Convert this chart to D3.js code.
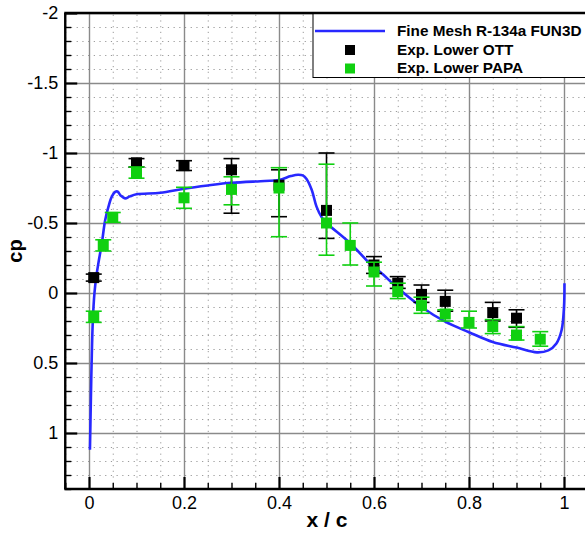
<!DOCTYPE html>
<html>
<head>
<meta charset="utf-8">
<script src="https://cdn.jsdelivr.net/npm/d3@7/dist/d3.min.js"></script>
<style>
  html, body { margin: 0; padding: 0; background: #fff; }
  svg { display: block; }
  text { font-family: "Liberation Sans", Arial, Helvetica, sans-serif; }
</style>
</head>
<body>
<svg id="chart" width="585" height="535"></svg>
<script>
// CFD surface pressure, lower side (x/c, cp)
const cfdX  = [0.002, 0.004, 0.0055, 0.008, 0.0115, 0.0155, 0.0196, 0.027, 0.034, 0.041, 0.048, 0.055, 0.060, 0.067, 0.076, 0.086, 0.10, 0.15, 0.20, 0.25, 0.30, 0.37, 0.40, 0.425, 0.44, 0.45, 0.458, 0.469, 0.479, 0.49, 0.50, 0.55, 0.60, 0.613, 0.65, 0.70, 0.75, 0.80, 0.85, 0.90, 0.943, 0.967, 0.984, 0.995, 1.0, 1.001];
const cfdCp = [1.12, 0.75, 0.50, 0.20, 0.0, -0.12, -0.21, -0.355, -0.52, -0.617, -0.688, -0.722, -0.725, -0.695, -0.676, -0.69, -0.705, -0.716, -0.745, -0.768, -0.787, -0.80, -0.807, -0.835, -0.845, -0.84, -0.815, -0.736, -0.617, -0.54, -0.50, -0.355, -0.18, -0.15, -0.035, 0.10, 0.205, 0.28, 0.35, 0.39, 0.424, 0.41, 0.36, 0.264, 0.10, -0.07];

// Experiment, OTT: value plus error-bar bounds
const ottX   = [0.01, 0.10, 0.20, 0.30, 0.40, 0.50, 0.60, 0.65, 0.70, 0.75, 0.85, 0.90];
const ottCp  = [-0.11, -0.93, -0.91, -0.88, -0.77, -0.59, -0.20, -0.07, 0.01, 0.06, 0.14, 0.18];
const ottMin = [-0.135, -0.96, -0.945, -0.96, -0.88, -1.00, -0.26, -0.117, -0.057, -0.02, 0.067, 0.12];
const ottMax = [-0.085, -0.90, -0.875, -0.57, -0.545, -0.39, -0.14, -0.033, 0.067, 0.13, 0.20, 0.245];

// Experiment, PAPA: value plus error-bar bounds
const papaX   = [0.01, 0.03, 0.05, 0.10, 0.20, 0.30, 0.40, 0.50, 0.55, 0.60, 0.65, 0.70, 0.75, 0.80, 0.85, 0.90, 0.95];
const papaCp  = [0.17, -0.34, -0.54, -0.86, -0.68, -0.74, -0.75, -0.50, -0.34, -0.15, -0.01, 0.09, 0.15, 0.21, 0.24, 0.30, 0.33];
const papaMin = [0.13, -0.38, -0.575, -0.90, -0.755, -0.83, -0.895, -0.92, -0.50, -0.22, -0.07, 0.03, 0.12, 0.13, 0.19, 0.24, 0.276];
const papaMax = [0.21, -0.30, -0.505, -0.82, -0.605, -0.63, -0.402, -0.27, -0.20, -0.05, 0.04, 0.145, 0.20, 0.25, 0.29, 0.336, 0.38];

const xTicks = [0, 0.2, 0.4, 0.6, 0.8, 1];
const yTicks = [-2, -1.5, -1, -0.5, 0, 0.5, 1];
const legendLabels = ["Fine Mesh R-134a FUN3D", "Exp. Lower OTT", "Exp. Lower PAPA"];

const colors = { cfd: "#2828ff", ott: "#000000", papa: "#10d010" };

const svg = d3.select("#chart");
const plotLeft = 65.25, plotTop = 13, plotBottom = 489;
const x = d3.scaleLinear().domain([-0.05, 1.05]).range([plotLeft, plotLeft + 1.1 * 475]);
const y = d3.scaleLinear().domain([-2, 1.4]).range([plotTop, plotBottom]);
const plotW = x.range()[1] - plotLeft;
const plotH = plotBottom - plotTop;

const xMinor = d3.range(-0.05, 1.051, 0.05).map(v => +v.toFixed(2));
const yMinor = d3.range(-2, 1.401, 0.1).map(v => +v.toFixed(1));

const plot = svg.append("g");

// minor grid (dotted)
plot.append("g").attr("transform", `translate(0,${plotBottom})`)
  .call(d3.axisBottom(x).tickValues(xMinor).tickSize(-plotH).tickFormat(""))
  .call(g => g.select(".domain").remove())
  .call(g => g.selectAll("line").attr("stroke", "#9a9a9a").attr("stroke-width", 1).attr("stroke-dasharray", "1.2 4.5"));
plot.append("g").attr("transform", `translate(${plotLeft},0)`)
  .call(d3.axisLeft(y).tickValues(yMinor).tickSize(-plotW).tickFormat(""))
  .call(g => g.select(".domain").remove())
  .call(g => g.selectAll("line").attr("stroke", "#9a9a9a").attr("stroke-width", 1).attr("stroke-dasharray", "1.2 4.5"));

// major grid
plot.append("g").attr("transform", `translate(0,${plotBottom})`)
  .call(d3.axisBottom(x).tickValues(xTicks).tickSize(-plotH).tickFormat(""))
  .call(g => g.select(".domain").remove())
  .call(g => g.selectAll("line").attr("stroke", "#8a8a8a").attr("stroke-width", 1.4));
plot.append("g").attr("transform", `translate(${plotLeft},0)`)
  .call(d3.axisLeft(y).tickValues(yTicks).tickSize(-plotW).tickFormat(""))
  .call(g => g.select(".domain").remove())
  .call(g => g.selectAll("line").attr("stroke", "#8a8a8a").attr("stroke-width", 1.4));

// CFD curve
const line = d3.line().x(d => x(d[0])).y(d => y(d[1])).curve(d3.curveCatmullRom.alpha(0.5));
plot.append("path")
  .datum(cfdX.map((v, i) => [v, cfdCp[i]]))
  .attr("d", line)
  .attr("fill", "none")
  .attr("stroke", colors.cfd)
  .attr("stroke-width", 2.6);

// error bars + square markers
function drawSeries(xs, cps, mins, maxs, color) {
  const g = plot.append("g");
  const data = xs.map((v, i) => ({ x: v, cp: cps[i], lo: mins[i], hi: maxs[i] }));
  const cap = 8, half = 5.5;
  const eb = g.selectAll("g.eb").data(data).join("g").attr("class", "eb")
    .attr("stroke", color).attr("stroke-width", 1.6);
  eb.append("line").attr("x1", d => x(d.x)).attr("x2", d => x(d.x))
    .attr("y1", d => y(d.lo)).attr("y2", d => y(d.hi));
  eb.append("line").attr("x1", d => x(d.x) - cap).attr("x2", d => x(d.x) + cap)
    .attr("y1", d => y(d.lo)).attr("y2", d => y(d.lo));
  eb.append("line").attr("x1", d => x(d.x) - cap).attr("x2", d => x(d.x) + cap)
    .attr("y1", d => y(d.hi)).attr("y2", d => y(d.hi));
  g.selectAll("rect").data(data).join("rect")
    .attr("x", d => x(d.x) - half).attr("y", d => y(d.cp) - half)
    .attr("width", half * 2).attr("height", half * 2)
    .attr("fill", color);
}
drawSeries(ottX, ottCp, ottMin, ottMax, colors.ott);
drawSeries(papaX, papaCp, papaMin, papaMax, colors.papa);

// axes: inward ticks
const fmt = d => String(d);
const yAxis = svg.append("g").attr("transform", `translate(${plotLeft},0)`)
  .call(d3.axisLeft(y).tickValues(yTicks).tickSize(-12).tickSizeOuter(0).tickPadding(7).tickFormat(fmt));
const xAxis = svg.append("g").attr("transform", `translate(0,${plotBottom})`)
  .call(d3.axisBottom(x).tickValues(xTicks).tickSize(-12).tickSizeOuter(0).tickPadding(7).tickFormat(fmt));
[yAxis, xAxis].forEach(a => {
  a.selectAll(".domain").remove();
  a.selectAll("line").attr("stroke", "#000").attr("stroke-width", 2.2);
  a.selectAll("text").attr("font-size", 18).attr("fill", "#000");
});
svg.append("g").attr("transform", `translate(${plotLeft},0)`)
  .call(d3.axisLeft(y).tickValues(yMinor.filter(v => !yTicks.includes(v))).tickSize(-6).tickFormat(""))
  .call(g => g.select(".domain").remove())
  .call(g => g.selectAll("line").attr("stroke", "#000").attr("stroke-width", 1.4));
svg.append("g").attr("transform", `translate(0,${plotBottom})`)
  .call(d3.axisBottom(x).tickValues(xMinor.filter(v => !xTicks.includes(v))).tickSize(-6).tickFormat(""))
  .call(g => g.select(".domain").remove())
  .call(g => g.selectAll("line").attr("stroke", "#000").attr("stroke-width", 1.4));

// frame
svg.append("line").attr("x1", plotLeft).attr("x2", plotLeft).attr("y1", plotTop).attr("y2", plotBottom)
  .attr("stroke", "#000").attr("stroke-width", 2.4);
svg.append("line").attr("x1", plotLeft - 1).attr("x2", 600).attr("y1", plotBottom).attr("y2", plotBottom)
  .attr("stroke", "#000").attr("stroke-width", 2.4);

// axis titles
svg.append("text").attr("x", 327).attr("y", 527).attr("text-anchor", "middle")
  .attr("font-size", 21).attr("font-weight", "bold").text("x / c");
svg.append("text").attr("transform", "translate(22,251) rotate(-90)").attr("text-anchor", "middle")
  .attr("font-size", 20).attr("font-weight", "bold").text("cp");

// legend
const lg = svg.append("g");
lg.append("rect").attr("x", 313).attr("y", plotTop).attr("width", 300).attr("height", 64.5)
  .attr("fill", "#fff").attr("stroke", "#000").attr("stroke-width", 1);
lg.append("line").attr("x1", 315).attr("x2", 385).attr("y1", 31).attr("y2", 31)
  .attr("stroke", colors.cfd).attr("stroke-width", 2.4);
lg.append("rect").attr("x", 345).attr("y", 45).attr("width", 10).attr("height", 10).attr("fill", colors.ott);
lg.append("rect").attr("x", 345).attr("y", 63.5).attr("width", 10).attr("height", 10).attr("fill", colors.papa);
lg.selectAll("text.lab").data(legendLabels).join("text").attr("class", "lab")
  .attr("x", 397).attr("y", (d, i) => 36 + i * 18.7)
  .attr("font-size", 15.3).attr("font-weight", "bold").attr("fill", "#000")
  .text(d => d);

// top border
svg.append("line").attr("x1", plotLeft - 1).attr("x2", 600).attr("y1", plotTop).attr("y2", plotTop)
  .attr("stroke", "#000").attr("stroke-width", 2.4);
</script>
</body>
</html>
